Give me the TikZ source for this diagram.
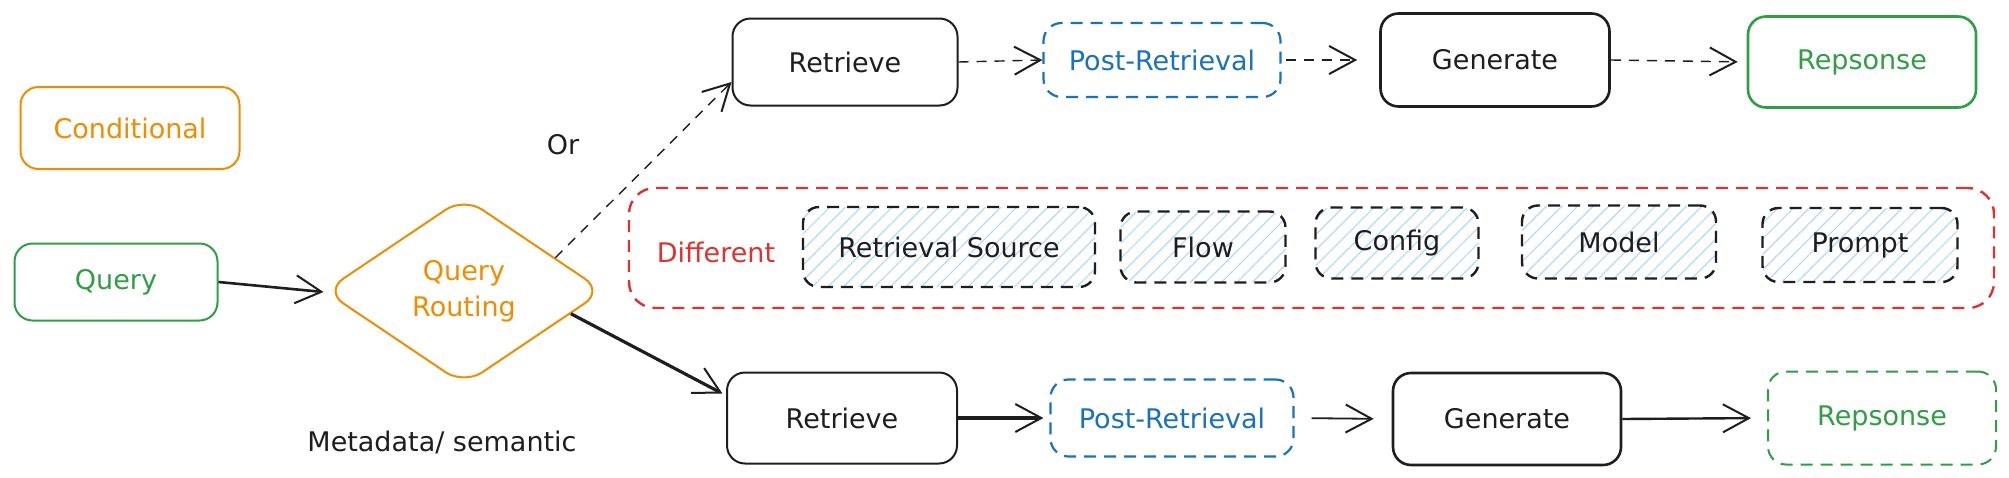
\documentclass[tikz,border=0pt]{standalone}
\usepackage{fontspec}
\setmainfont{DejaVu Sans}
\usetikzlibrary{shapes.geometric,arrows.meta,patterns.meta}
\definecolor{exOrange}{HTML}{F08C00}
\definecolor{exGreen}{HTML}{2F9E44}
\definecolor{exBlue}{HTML}{1971C2}
\definecolor{exRed}{HTML}{E03131}
\definecolor{exBlack}{HTML}{1E1E1E}
\definecolor{exHatch}{HTML}{A5D8FF}
\begin{document}
\begin{tikzpicture}[x=1pt,y=-1pt,
  font=\fontsize{27}{36}\selectfont,
  basebox/.style={rectangle, rounded corners=18pt, line width=2pt, inner sep=0pt, align=center, draw=exBlack, text=exBlack},
  dashbox/.style={dash pattern=on 12pt off 8pt},
  hatchbox/.style={basebox, dashbox, line width=2.4pt, rounded corners=16pt,
    pattern={Lines[angle=45,distance=11pt,line width=1pt]}, pattern color=exHatch},
  orangebox/.style={basebox, draw=exOrange, text=exOrange},
  greenbox/.style={basebox, draw=exGreen, text=exGreen},
  bluebox/.style={basebox, dashbox, draw=exBlue, text=exBlue, line width=2.2pt},
  lbl/.style={text=exBlack, inner sep=0pt},
  tip/.style={-{Straight Barb[length=26pt,width=28pt,line width=2pt]}},
  arr/.style={tip, draw=exBlack, line width=2.2pt},
  darr/.style={tip, draw=exBlack, line width=1.4pt, dash pattern=on 10pt off 8pt},
]
\useasboundingbox[fill=white] (0,0) rectangle (2009,477);

% left side
\node[orangebox, minimum width=219pt, minimum height=82pt] (cond) at (130,128) {Conditional};
\node[greenbox, minimum width=203pt, minimum height=77pt] (query) at (116,282) {Query};
\node[diamond, aspect=1.48, minimum width=279pt, minimum height=188pt, inner sep=0pt,
      draw=exOrange, line width=2pt, rounded corners=22pt, text=exOrange, align=center] (dia) at (464,291) {Query\\Routing};
\node[lbl] (or) at (563,145) {Or};
\node[lbl] (meta) at (442,442) {Metadata/ semantic};

% top row
\node[basebox, minimum width=225pt, minimum height=87pt] (r1) at (845,62) {Retrieve};
\node[bluebox, minimum width=237pt, minimum height=74pt] (p1) at (1162,60) {Post-Retrieval};
\node[basebox, line width=2.6pt, minimum width=229pt, minimum height=93pt] (g1) at (1495,60) {Generate};
\node[greenbox, line width=2.6pt, minimum width=228pt, minimum height=91pt] (s1) at (1862,62) {Repsonse};

% middle container
\node[basebox, dashbox, draw=exRed, line width=2.4pt, rounded corners=26pt,
      minimum width=1365pt, minimum height=120pt] (diffbox) at (1311.5,248) {};
\node[lbl, text=exRed] (diff) at (716,252) {Different};
\node[hatchbox, minimum width=292pt, minimum height=80pt] (rs) at (949,247) {Retrieval Source};
\node[hatchbox, minimum width=165pt, minimum height=71pt] (flow) at (1203,247) {Flow};
\node[hatchbox, minimum width=163pt, minimum height=71pt] (config) at (1397,243) {Config};
\node[hatchbox, minimum width=194pt, minimum height=73pt] (model) at (1619,242) {Model};
\node[hatchbox, minimum width=195pt, minimum height=74pt] (prompt) at (1860,245) {Prompt};

% bottom row
\node[basebox, minimum width=230pt, minimum height=91pt] (r2) at (842,418) {Retrieve};
\node[bluebox, minimum width=243pt, minimum height=77pt] (p2) at (1172,418) {Post-Retrieval};
\node[basebox, line width=2.6pt, minimum width=228pt, minimum height=92pt] (g2) at (1507,419) {Generate};
\node[greenbox, dashbox, minimum width=228pt, minimum height=93pt] (s2) at (1882,418) {Repsonse};

% connectors
\draw[arr, line width=2.6pt] (query.east) -- ([yshift=-1pt]dia.west);
\draw[darr] (dia.20) -- (r1.190);
\draw[arr, line width=3.2pt, shorten >=4pt] (dia.-12) -- (r2.169);

\draw[darr] (r1.east) -- (p1.west);
\draw[darr, shorten <=4pt, shorten >=22pt] (p1.east) -- (g1.west);
\draw[darr, shorten >=9pt] (g1.east) -- (s1.west);

\draw[arr, line width=3.2pt, shorten >=6pt] (r2.east) -- (p2.west);
\draw[arr, line width=1.8pt, shorten <=17pt, shorten >=18pt] (p2.east) -- (g2.west);
\draw[arr, line width=2.4pt, shorten >=16pt] (g2.east) -- (s2.west);
\end{tikzpicture}
\end{document}
